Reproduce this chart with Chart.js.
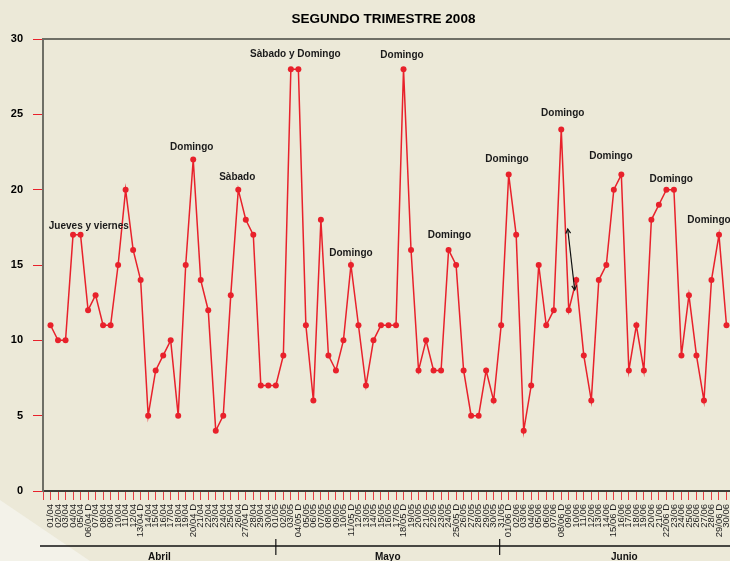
<!DOCTYPE html>
<html>
<head>
<meta charset="utf-8">
<script src="https://cdn.jsdelivr.net/npm/chart.js@4"></script>
<style>
  html, body { margin: 0; padding: 0; overflow: hidden; background: #ECE9D8; }
  #wrap { width: 740px; height: 561px; }
</style>
</head>
<body>
<div id="wrap"><canvas id="trimChart" width="740" height="561"></canvas></div>
<script>
//=================Data===================//
var days = [
  '01/04','02/04','03/04','04/04','05/04','06/04 D','07/04','08/04','09/04','10/04',
  '11/04','12/04','13/04 D','14/04','15/04','16/04','17/04','18/04','19/04','20/04 D',
  '21/04','22/04','23/04','24/04','25/04','26/04','27/04 D','28/04','29/04','30/04',
  '01/05','02/05','03/05','04/05 D','05/05','06/05','07/05','08/05','09/05','10/05',
  '11/05 D','12/05','13/05','14/05','15/05','16/05','17/05','18/05 D','19/05','20/05',
  '21/05','22/05','23/05','24/05','25/05 D','26/05','27/05','28/05','29/05','30/05','31/05',
  '01/06 D','02/06','03/06','04/06','05/06','06/06','07/06','08/06 D','09/06','10/06',
  '11/06','12/06','13/06','14/06','15/06 D','16/06','17/06','18/06','19/06','20/06',
  '21/06','22/06 D','23/06','24/06','25/06','26/06','27/06','28/06','29/06 D','30/06'
];
var values = [
  11, 10, 10, 17, 17, 12, 13, 11, 11, 15, 20, 16, 14, 5, 8, 9, 10, 5, 15, 22,
  14, 12, 4, 5, 13, 20, 18, 17, 7, 7,
  7, 9, 28, 28, 11, 6, 18, 9, 8, 10, 15, 11, 7, 10, 11, 11, 11, 28, 16, 8,
  10, 8, 8, 16, 15, 8, 5, 5, 8, 6, 11,
  21, 17, 4, 7, 15, 11, 12, 24, 12, 14, 9, 6, 14, 15, 20, 21, 8, 11, 8, 18,
  19, 20, 20, 9, 13, 9, 6, 14, 17, 11
];
var yTicks = [0, 5, 10, 15, 20, 25, 30];

var monthNames = ['Abril', 'Mayo', 'Junio'];
// month group edges in day-index units (first and last run off the plot)
var monthEdges = [-1, 30, 59.8, 93];

// text notes placed in data units (x = day index, y = value)
var noteTexts = ['Jueves y viernes', 'Domingo', 'Sàbado', 'Sàbado y Domingo', 'Domingo', 'Domingo',
  'Domingo', 'Domingo', 'Domingo', 'Domingo', 'Domingo', 'Domingo'];
var noteX = [5.1, 18.8, 24.86, 32.6, 46.8, 40.0, 53.1, 60.78, 68.2, 74.6, 82.64, 87.67];
var noteY = [17.6, 22.8, 20.8, 29.0, 28.95, 15.8, 17.0, 22.0, 25.1, 22.2, 20.7, 18.0];
var arrowX = [68.86, 69.79];
var arrowY = [17.39, 13.34];

var FONT = "'Liberation Sans', Arial, sans-serif";
var RED = '#E8212B';

//=================Plugins=================//
var paperPlugin = {
  id: 'paper',
  beforeDraw: function(chart){
    var ctx = chart.ctx;
    ctx.save();
    ctx.fillStyle = '#ECE9D8';
    ctx.fillRect(0, 0, chart.width, chart.height);
    ctx.fillStyle = '#F3F2E9';
    ctx.beginPath();
    ctx.moveTo(0, 500);
    ctx.lineTo(90, 561);
    ctx.lineTo(0, 561);
    ctx.closePath();
    ctx.fill();
    ctx.restore();
  },
  afterDraw: function(chart){
    var ctx = chart.ctx;
    var area = chart.chartArea;
    var xs = chart.scales.x;
    var ys = chart.scales.y;
    ctx.save();

    // top frame line
    ctx.strokeStyle = '#6F6F66';
    ctx.lineWidth = 2;
    ctx.beginPath();
    ctx.moveTo(area.left, area.top);
    ctx.lineTo(chart.width, area.top);
    ctx.stroke();

    // title, centred a little left of the plot middle like the original
    ctx.fillStyle = '#000';
    ctx.font = 'bold 13.5px ' + FONT;
    ctx.textAlign = 'center';
    ctx.textBaseline = 'middle';
    ctx.fillText('SEGUNDO TRIMESTRE 2008', (area.left + area.right) / 2 - 5, 19);

    // notes
    ctx.fillStyle = '#1A1A1A';
    ctx.font = 'bold 10px ' + FONT;
    for (var i = 0; i < noteTexts.length; i++){
      ctx.fillText(noteTexts[i], xs.getPixelForValue(noteX[i]), ys.getPixelForValue(noteY[i]));
    }

    // arrow
    var ax1 = xs.getPixelForValue(arrowX[0]), ay1 = ys.getPixelForValue(arrowY[0]);
    var ax2 = xs.getPixelForValue(arrowX[1]), ay2 = ys.getPixelForValue(arrowY[1]);
    ctx.strokeStyle = '#111';
    ctx.lineWidth = 1.2;
    ctx.beginPath();
    ctx.moveTo(ax1, ay1);
    ctx.lineTo(ax2, ay2);
    ctx.stroke();
    drawHead(ctx, ax2, ay2, ax1, ay1);
    drawHead(ctx, ax1, ay1, ax2, ay2);

    // month axis
    var lineY = 546;
    ctx.strokeStyle = '#111';
    ctx.lineWidth = 1.5;
    ctx.beginPath();
    ctx.moveTo(40, lineY);
    ctx.lineTo(chart.width, lineY);
    ctx.stroke();
    ctx.lineWidth = 1.2;
    for (var b = 1; b < monthEdges.length - 1; b++){
      var bx = xs.getPixelForValue(monthEdges[b]);
      ctx.beginPath();
      ctx.moveTo(bx, lineY - 7);
      ctx.lineTo(bx, lineY + 9);
      ctx.stroke();
    }
    ctx.fillStyle = '#111';
    ctx.font = 'bold 10px ' + FONT;
    for (var m = 0; m < monthNames.length; m++){
      var mid = (monthEdges[m] + monthEdges[m + 1]) / 2;
      ctx.fillText(monthNames[m], xs.getPixelForValue(mid), lineY + 11);
    }
    ctx.restore();
  }
};

function drawHead(ctx, x, y, fromX, fromY){
  var ang = Math.atan2(y - fromY, x - fromX);
  var len = 5;
  ctx.beginPath();
  ctx.moveTo(x - len * Math.cos(ang - 0.5), y - len * Math.sin(ang - 0.5));
  ctx.lineTo(x, y);
  ctx.lineTo(x - len * Math.cos(ang + 0.5), y - len * Math.sin(ang + 0.5));
  ctx.stroke();
}

//===================Chart===================//
var points = values.map(function(v, i){ return {x: i, y: v}; });

var ctx = document.getElementById('trimChart').getContext('2d');
var trimChart = new Chart(ctx, {
  type: 'line',
  data: {
    datasets: [{
      data: points,
      borderColor: RED,
      backgroundColor: RED,
      borderWidth: 1.5,
      pointRadius: 3,
      pointBorderWidth: 0,
      pointBackgroundColor: RED,
      tension: 0
    }]
  },
  options: {
    responsive: false,
    animation: false,
    layout: { padding: { top: 39, right: 6, left: 0, bottom: 0 } },
    plugins: {
      legend: { display: false },
      tooltip: { enabled: false },
      title: { display: false }
    },
    scales: {
      x: {
        type: 'linear',
        min: -1,
        max: 91,
        afterFit: function(scale){
          scale.height = 70;
          scale.paddingLeft = 0;
          scale.paddingRight = 0;
        },
        border: { color: '#3C3C36', width: 2 },
        grid: { drawOnChartArea: false, tickLength: 9, tickColor: 'rgba(232,30,40,0.85)', tickWidth: 1 },
        ticks: {
          stepSize: 1,
          maxTicksLimit: 200,
          autoSkip: false,
          maxRotation: 90,
          minRotation: 90,
          padding: 4,
          color: '#222',
          font: { family: FONT, size: 9.5 },
          callback: function(value){ return days[value] || ''; }
        }
      },
      y: {
        min: 0,
        max: 30,
        afterFit: function(scale){ scale.width = 43; },
        afterBuildTicks: function(scale){ scale.ticks = yTicks.map(function(v){ return {value: v}; }); },
        border: { color: '#6F6F66', width: 2 },
        grid: { drawOnChartArea: false, tickLength: 10, tickColor: RED, tickWidth: 1 },
        ticks: {
          padding: 10,
          color: '#000',
          font: { family: FONT, size: 11, weight: 'bold' }
        }
      }
    }
  },
  plugins: [paperPlugin]
});
</script>
</body>
</html>
